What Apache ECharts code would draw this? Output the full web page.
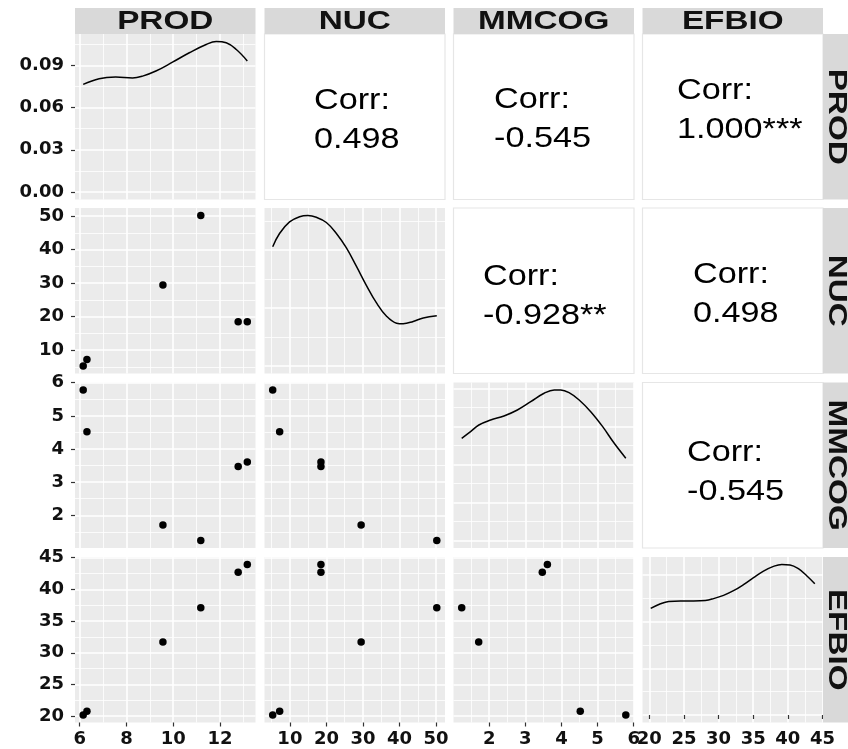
<!DOCTYPE html>
<html>
<head>
<meta charset="utf-8">
<title>ggpairs PROD NUC MMCOG EFBIO</title>
<script src="https://cdn.jsdelivr.net/npm/echarts@6/dist/echarts.min.js"></script>
<style>
html, body { margin: 0; padding: 0; background: #fff; }
#main { width: 848px; height: 749px; }
</style>
</head>
<body>
<div id="main"></div>
<script>
// variable names (strip labels)
const varNames = ['PROD', 'NUC', 'MMCOG', 'EFBIO']

const PROD = [6.15, 6.31, 9.56, 11.18, 12.78, 13.17]
const NUC = [5.3, 7.2, 29.5, 50.2, 18.5, 18.5]
const MMCOG = [5.78, 4.52, 1.71, 1.24, 3.47, 3.61]
const EFBIO = [20.2, 20.8, 31.7, 37.1, 42.7, 43.9]

// density curves on the diagonal, [value, density]
const densPROD = [[6.15, 0.0765], [6.83, 0.0806], [7.54, 0.0817], [8.26, 0.0811], [8.69, 0.0824], [9.26, 0.0860],
  [9.97, 0.0923], [10.69, 0.0990], [11.41, 0.1049], [11.84, 0.1070], [12.27, 0.1061], [12.70, 0.1013], [13.17, 0.0932]]
const densNUC = [[5.3, 0.0206], [7.17, 0.0229], [9.91, 0.0249], [12.66, 0.0258], [14.94, 0.0260], [17.24, 0.0257],
  [19.98, 0.0248], [22.73, 0.0229], [25.47, 0.0204], [28.22, 0.0172], [30.96, 0.0139], [33.70, 0.0109],
  [36.45, 0.0086], [39.19, 0.0074], [41.0, 0.0073], [43.74, 0.0077], [46.49, 0.0083], [50.2, 0.0087]]
const densMMCOG = [[1.24, 0.1347], [1.485, 0.1434], [1.715, 0.1522], [2.04, 0.1588], [2.41, 0.1641], [2.78, 0.1720],
  [3.15, 0.1829], [3.52, 0.1940], [3.80, 0.1983], [3.98, 0.1983], [4.21, 0.1948], [4.49, 0.1852],
  [4.81, 0.1697], [5.14, 0.1500], [5.46, 0.1281], [5.78, 0.1085]]
const densEFBIO = [[20.2, 0.0228], [21.61, 0.0238], [22.80, 0.0243], [24.49, 0.0244], [26.40, 0.0244], [28.09, 0.0245],
  [29.28, 0.0249], [30.72, 0.0256], [32.16, 0.0266], [33.60, 0.0279], [35.05, 0.0294], [36.49, 0.0308],
  [37.93, 0.0318], [39.14, 0.0322], [40.33, 0.0321], [41.53, 0.0313], [42.73, 0.0298], [43.9, 0.0281]]

// tick labels (major breaks) and minor breaks
const ticksPROD = [6, 8, 10, 12]
const ticksNUC = [10, 20, 30, 40, 50]
const ticksMMCOG = [2, 3, 4, 5, 6]
const ticksEFBIO = [20, 25, 30, 35, 40, 45]
const minorPROD = [7, 9, 11, 13]
const minorNUC = [5, 15, 25, 35, 45]
const minorMMCOG = [1.5, 2.5, 3.5, 4.5, 5.5]
const minorEFBIO = [22.5, 27.5, 32.5, 37.5, 42.5]

// density breaks of the diagonal panels
const densTicksPROD = [0, 0.03, 0.06, 0.09]
const densTicksNUC = [0, 0.01, 0.02]
const densTicksMMCOG = [0, 0.05, 0.1, 0.15, 0.2]
const densTicksEFBIO = [0, 0.01, 0.02, 0.03]
const densMinorPROD = [0.015, 0.045, 0.075, 0.105]
const densMinorNUC = [0.005, 0.015, 0.025]
const densMinorMMCOG = [0.025, 0.075, 0.125, 0.175]
const densMinorEFBIO = [0.005, 0.015, 0.025]

// correlation texts of the upper panels
const corrPairs = [[0, 1], [0, 2], [0, 3], [1, 2], [1, 3], [2, 3]]
const corrValues = ['0.498', '-0.545', '1.000***', '-0.928**', '0.498', '-0.545']

const vars = [PROD, NUC, MMCOG, EFBIO]
const dens = [densPROD, densNUC, densMMCOG, densEFBIO]
const majors = [ticksPROD, ticksNUC, ticksMMCOG, ticksEFBIO]
const minors = [minorPROD, minorNUC, minorMMCOG, minorEFBIO]
const densMajors = [densTicksPROD, densTicksNUC, densTicksMMCOG, densTicksEFBIO]
const densMinors = [densMinorPROD, densMinorNUC, densMinorMMCOG, densMinorEFBIO]

// layout
const colLeft = [75, 264.5, 453.5, 642.5]
const rowTop = [34, 208, 382.5, 557]
const panelW = 180.5
const panelH = 165.5
// corr text: x of the block start, baseline of first line
const corrPos = [[314, 110], [494, 109], [677, 100], [483, 286], [693, 284], [687, 462]]

const labelFont = { color: '#111', fontFamily: 'DejaVu Sans', fontWeight: 'bold', fontSize: 18 }

// ggplot style 5% expansion of the data range
function expand(lo, hi) {
  const d = (hi - lo) * 0.05
  return [lo - d, hi + d]
}
function rangeOf(arr) {
  return expand(Math.min(...arr), Math.max(...arr))
}
function densRange(curve) {
  return expand(0, Math.max(...curve.map(p => p[1])))
}

function majorAxis(gridIndex, r, ticks, showLabel, isY, fmt) {
  const label = Object.assign({ show: showLabel, customValues: ticks }, labelFont)
  if (isY) {
    label.margin = 11
    label.verticalAlign = 'middle'
    label.padding = [4, 0, 0, 0]
  } else {
    label.margin = 8
  }
  if (fmt) label.formatter = fmt
  return {
    type: 'value', gridIndex, position: isY ? 'left' : 'bottom', min: r[0], max: r[1],
    axisLine: { show: false },
    axisTick: { show: showLabel, length: 4, lineStyle: { color: '#333', width: 1.2 }, customValues: ticks },
    axisLabel: label,
    splitLine: { show: true, lineStyle: { color: '#fff', width: 1.6 } },
    minorTick: { show: false },
    minorSplitLine: { show: false }
  }
}
function minorAxis(gridIndex, r, ticks, position) {
  return {
    type: 'value', gridIndex, position, min: r[0], max: r[1],
    axisLine: { show: false },
    axisTick: { show: false, customValues: ticks },
    axisLabel: { show: false, customValues: ticks },
    splitLine: { show: true, lineStyle: { color: '#fff', width: 0.8 } }
  }
}

const grids = []
const xAxes = []
const yAxes = []
const series = []
const graphics = []

for (let i = 0; i < 4; i++) {
  for (let j = 0; j < 4; j++) {
    if (i < j) continue
    const g = grids.length
    grids.push({
      left: colLeft[j], top: rowTop[i], width: panelW, height: panelH,
      show: true, backgroundColor: '#EBEBEB', borderWidth: 0,
      containLabel: false, outerBoundsMode: 'none'
    })
    const diag = i === j
    const xr = rangeOf(vars[j])
    const yr = diag ? densRange(dens[i]) : rangeOf(vars[i])
    xAxes.push(majorAxis(g, xr, majors[j], i === 3, false))
    xAxes.push(minorAxis(g, xr, minors[j], 'top'))
    yAxes.push(majorAxis(g, yr, diag ? densMajors[i] : majors[i], j === 0, true,
      diag ? v => v.toFixed(2) : null))
    yAxes.push(minorAxis(g, yr, diag ? densMinors[i] : minors[i], 'right'))
    const xi = xAxes.length - 2
    const yi = yAxes.length - 2
    if (diag) {
      series.push({
        type: 'line', xAxisIndex: xi, yAxisIndex: yi, data: dens[i],
        smooth: 0.4, showSymbol: false, silent: true,
        lineStyle: { color: '#000', width: 1.5 }
      })
    } else {
      series.push({
        type: 'scatter', xAxisIndex: xi, yAxisIndex: yi,
        data: vars[j].map((v, k) => [v, vars[i][k]]),
        symbolSize: 7.5, silent: true,
        itemStyle: { color: '#000', opacity: 1 }
      })
    }
  }
}

// correlation panels
corrPairs.forEach((p, k) => {
  const [i, j] = p
  graphics.push({
    type: 'rect', z: 1,
    shape: { x: colLeft[j], y: rowTop[i], width: panelW, height: panelH },
    style: { fill: '#fff', stroke: '#E6E6E6', lineWidth: 1.2 }
  })
  const lines = ['Corr:', corrValues[k]]
  lines.forEach((t, n) => {
    graphics.push({
      type: 'text', z: 2,
      x: corrPos[k][0], y: corrPos[k][1] - 9.5 + n * 39.5, scaleX: 1.14,
      style: {
        text: t, font: '30px "Liberation Sans", Arial, sans-serif', fill: '#000',
        textAlign: 'left', align: 'left', textVerticalAlign: 'middle', verticalAlign: 'middle'
      }
    })
  })
})

// strips
varNames.forEach((name, k) => {
  graphics.push({
    type: 'rect', z: 1,
    shape: { x: colLeft[k], y: 8, width: panelW, height: 26 },
    style: { fill: '#D9D9D9' }
  })
  graphics.push({
    type: 'text', z: 2,
    x: colLeft[k] + panelW / 2, y: 21.5, scaleX: 1.28,
    style: {
      text: name, font: 'bold 26px "Liberation Sans", Arial, sans-serif', fill: '#111',
      textAlign: 'center', align: 'center', textVerticalAlign: 'middle', verticalAlign: 'middle'
    }
  })
  graphics.push({
    type: 'rect', z: 1,
    shape: { x: colLeft[3] + panelW, y: rowTop[k], width: 848 - colLeft[3] - panelW, height: panelH },
    style: { fill: '#D9D9D9' }
  })
  graphics.push({
    type: 'text', z: 2,
    x: 836.5, y: rowTop[k] + panelH / 2, scaleX: 1.28, rotation: -Math.PI / 2,
    style: {
      text: name, font: 'bold 26px "Liberation Sans", Arial, sans-serif', fill: '#111',
      textAlign: 'center', align: 'center', textVerticalAlign: 'middle', verticalAlign: 'middle'
    }
  })
})

const chart = echarts.init(document.getElementById('main'))
chart.setOption({
  backgroundColor: '#fff',
  animation: false,
  grid: grids,
  xAxis: xAxes,
  yAxis: yAxes,
  series: series,
  graphic: graphics
})
</script>
</body>
</html>
